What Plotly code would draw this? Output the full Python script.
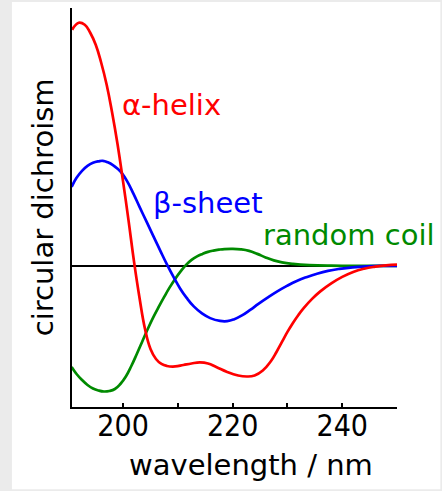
import plotly.graph_objects as go

# Far-UV circular dichroism spectra of the three main secondary structures
# (arbitrary units, zero = no CD signal)
wl_helix = [190.7, 191.9, 193.0, 194.0, 195.0, 196.0, 197.0, 198.0, 199.0, 200.0,
            201.0, 202.0, 203.0, 204.0, 205.0, 206.0, 207.0, 208.0, 209.5, 211.0,
            212.5, 214.0, 215.5, 217.0, 219.0, 221.0, 222.6, 224.0, 225.5, 227.0,
            228.0, 229.0, 230.0, 231.0, 232.0, 233.0, 234.5, 236.0, 238.0, 240.0,
            242.0, 244.0, 246.0, 248.0, 250.0]
cd_helix = [236, 243, 241, 233, 221, 203, 181, 153, 121, 84,
            45, 4, -32, -63, -83, -93, -98, -100, -100.5, -99,
            -97.5, -96.5, -97.5, -101, -106, -109.5, -110.5, -109.5, -104.5, -95,
            -86, -76, -66, -57, -49, -42, -33, -25.5, -17.5, -11,
            -6, -2.8, -0.8, 0.6, 1.2]

wl_sheet = [190.6, 191.5, 192.5, 193.5, 194.5, 195.5, 196.3, 197.2, 198.2, 199.0,
            199.8, 200.8, 201.9, 203.0, 204.3, 205.5, 206.8, 208.0, 209.2, 210.4,
            211.6, 212.9, 214.4, 215.9, 217.7, 219.0, 220.2, 221.7, 223.2, 224.7,
            226.3, 228.0, 229.9, 231.7, 233.6, 235.4, 237.4, 239.5, 241.9, 244.5,
            247.0, 250.0]
cd_sheet = [79, 88, 95, 100, 103, 104.5, 105, 103.5, 100.5, 97,
            92.5, 84, 72, 59, 44, 30, 15, 1.5, -11, -22.5,
            -32, -40.5, -47.5, -52.2, -55, -55.2, -53.5, -49.5, -44, -38,
            -32, -26, -20, -15, -11, -7.8, -5, -3, -1.4, -0.4,
            0, 0]

wl_coil = [190.6, 191.5, 192.5, 193.5, 194.5, 195.5, 196.5, 197.5, 198.5, 199.5,
           200.5, 201.5, 202.5, 203.5, 204.5, 205.5, 206.5, 207.5, 208.5, 209.5,
           210.5, 211.5, 212.5, 213.5, 214.5, 215.5, 216.5, 217.5, 218.5, 220.0,
           221.5, 223.0, 224.5, 226.0, 227.5, 229.0, 231.0, 234.0, 238.0, 244.0,
           250.0]
cd_coil = [-101, -108, -114, -119, -122.5, -124.5, -125.5, -125, -123, -118,
           -110.5, -100, -88, -75.5, -63, -51.5, -41, -31, -21.5, -13,
           -5.5, 1, 6, 9.5, 12, 14, 15.3, 16.2, 16.8, 17,
           16.5, 15, 12, 8.5, 5.5, 3.5, 2, 0.8, 0.2, 0,
           0]

tick_vals = [200, 210, 220, 230, 240, 250]
tick_text = ["200", "", "220", "", "240", ""]

FONT = "DejaVu Sans, Verdana, sans-serif"
TICK_FONT = "DejaVu Sans Condensed, DejaVu Sans, sans-serif"
RED, BLUE, GREEN = "#ff0000", "#0000ff", "#008a00"

fig = go.Figure()

# zero baseline
fig.add_trace(go.Scatter(x=[190.67, 250], y=[0, 0], mode="lines",
                         line=dict(color="black", width=2), hoverinfo="skip"))

for wl, cd, col, name in [(wl_coil, cd_coil, GREEN, "random coil"),
                          (wl_sheet, cd_sheet, BLUE, "β-sheet"),
                          (wl_helix, cd_helix, RED, "α-helix")]:
    fig.add_trace(go.Scatter(x=wl, y=cd, mode="lines", name=name,
                             line=dict(color=col, width=2.7, shape="spline",
                                       smoothing=1.3)))

# curve labels
labels = [("α-helix", 208.9, 161, RED),
          ("β-sheet", 215.5, 63, BLUE),
          ("random coil", 241.3, 31, GREEN)]
for txt, x, y, col in labels:
    fig.add_annotation(x=x, y=y, xref="x", yref="y", text=txt, showarrow=False,
                       xanchor="center", yanchor="middle",
                       font=dict(family=FONT, size=29, color=col))

# axis titles
fig.add_annotation(x=223.3, y=-0.145, xref="x", yref="paper",
                   text="wavelength / nm", showarrow=False,
                   xanchor="center", yanchor="middle",
                   font=dict(family=FONT, size=29, color="black"))
fig.add_annotation(x=-0.09, y=0.5, xref="paper", yref="paper",
                   text="circular dichroism", textangle=-90, showarrow=False,
                   xanchor="center", yanchor="middle",
                   font=dict(family=FONT, size=29, color="black"))

# white card on a light grey page
fig.add_shape(type="rect", xref="paper", yref="paper",
              x0=-0.1848, x1=1.1334, y0=-0.2064, y1=1.015,
              fillcolor="white", line=dict(width=0), layer="below")

fig.update_layout(
    width=442, height=491,
    margin=dict(l=72, r=45.3, t=8, b=84.3),
    paper_bgcolor="#ebebeb",
    plot_bgcolor="rgba(0,0,0,0)",
    showlegend=False,
    xaxis=dict(range=[190.67, 250], showgrid=False, zeroline=False,
               showline=True, linecolor="black", linewidth=2,
               ticks="inside", ticklen=4, tickwidth=2, tickcolor="black",
               tickvals=tick_vals, ticktext=tick_text, ticklabelstandoff=-9,
               tickfont=dict(family=TICK_FONT, size=30, color="black")),
    yaxis=dict(range=[-141, 257.7], showgrid=False, zeroline=False,
               showline=True, linecolor="black", linewidth=2,
               showticklabels=False, ticks=""),
)

fig.write_html("out.html")
